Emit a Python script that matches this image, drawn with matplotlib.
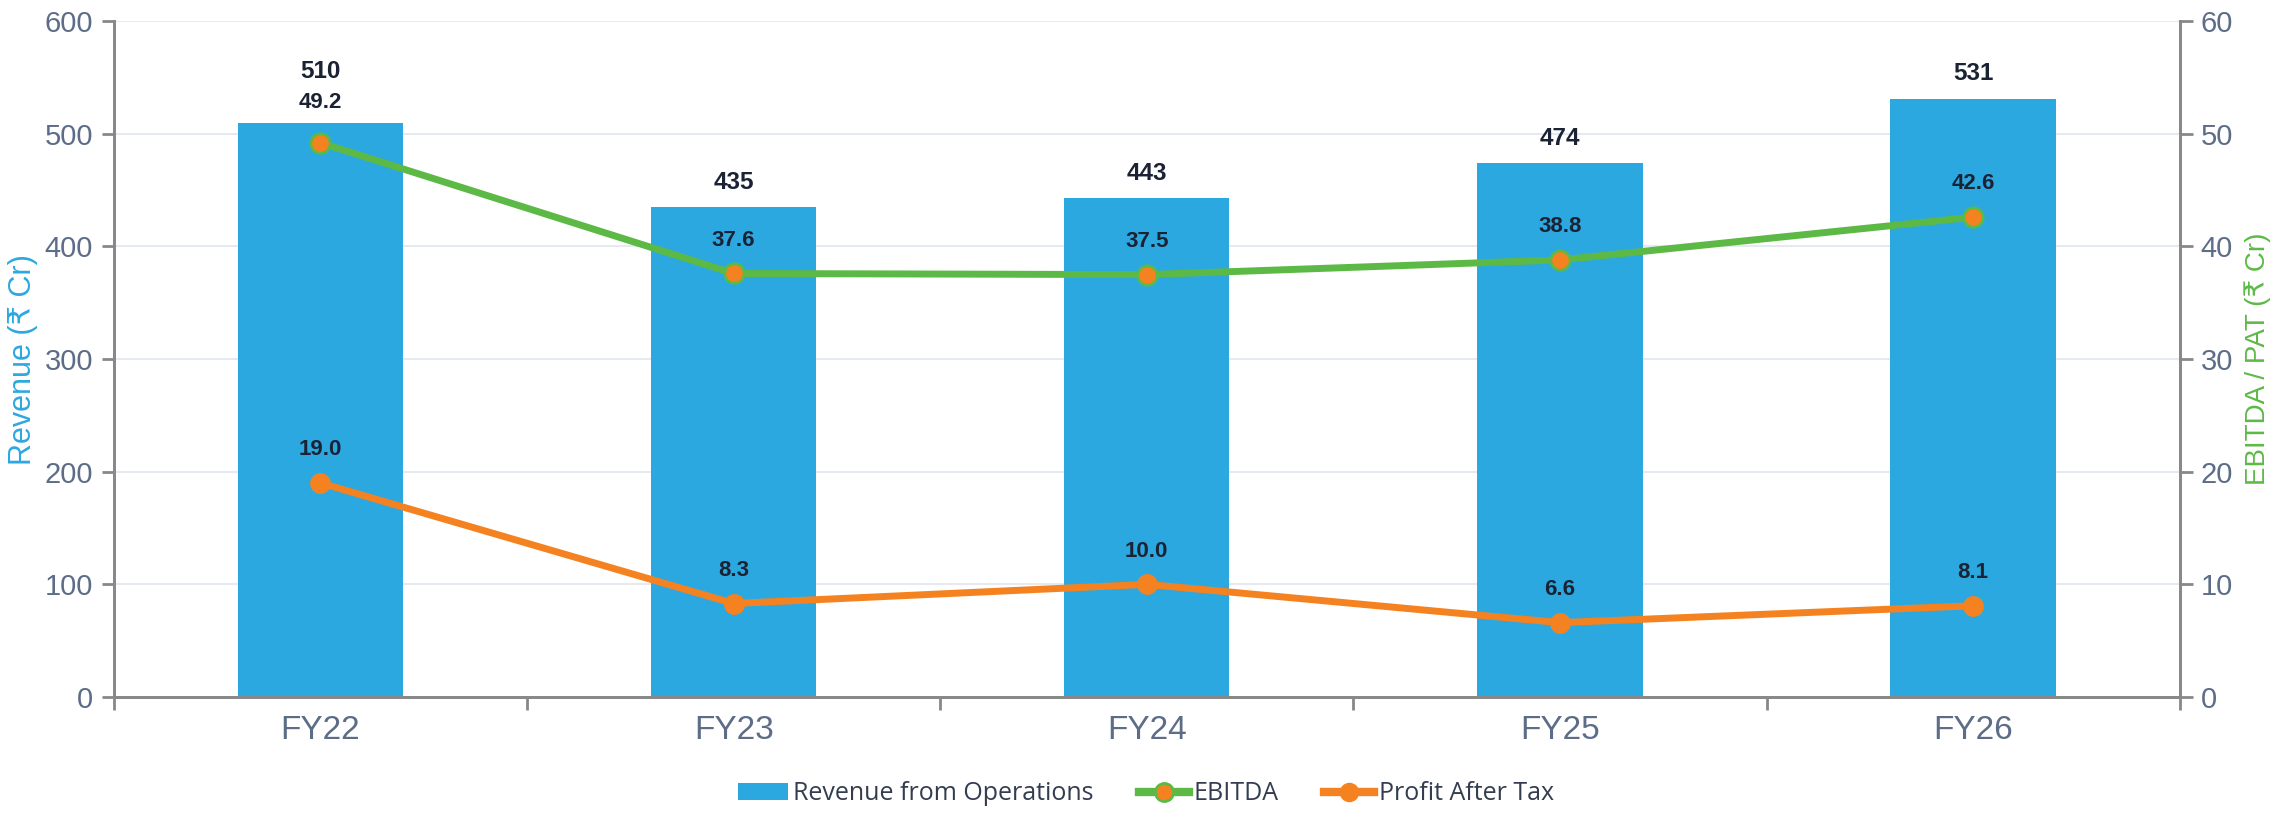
import numpy as np
import matplotlib
matplotlib.use('Agg')
import matplotlib.pyplot as plt
from matplotlib.lines import Line2D
from matplotlib.patches import Patch

plt.rcParams['font.family'] = ['Liberation Sans', 'DejaVu Sans']

# data
years = ['FY22', 'FY23', 'FY24', 'FY25', 'FY26']
revenue = [510, 435, 443, 474, 531]
ebitda = [49.2, 37.6, 37.5, 38.8, 42.6]
pat = [19.0, 8.3, 10.0, 6.6, 8.1]

bar_col = '#2CA8E0'
green = '#5DB946'
orange = '#F58220'
tick_col = '#5D6D88'
lab_col = '#1A2233'
spine_col = '#888888'

fig = plt.figure(figsize=(22.92, 8.15), dpi=100)
ax = fig.add_axes([0.0497, 0.1448, 0.9013, 0.8292])
ax2 = ax.twinx()

x = np.arange(len(years))
ax.bar(x, revenue, width=0.4, color=bar_col, zorder=2)

ax.set_xlim(-0.5, len(years) - 0.5)
ax.set_ylim(0, 600)
ax2.set_ylim(0, 60)
ax.set_yticks(np.arange(0, 601, 100))
ax2.set_yticks(np.arange(0, 61, 10))
ax.set_xticks(np.arange(-0.5, len(years), 1.0))
ax.set_xticklabels([])
ax.set_xticks(x, minor=True)
ax.set_xticklabels(years, minor=True)
ax.tick_params(axis='x', which='minor', length=0, labelsize=24, labelcolor=tick_col, pad=13)
ax.tick_params(axis='x', which='major', length=9, width=2, color=spine_col)
ax.tick_params(axis='y', length=9, width=2, color=spine_col, labelsize=21, labelcolor=tick_col, pad=6)
ax2.tick_params(axis='y', length=9, width=2, color=spine_col, labelsize=21, labelcolor=tick_col, pad=6)

ax.grid(axis='y', color='#E6E9F0', linewidth=1.5, zorder=0)
ax.set_axisbelow(True)
for a in (ax, ax2):
    a.spines['top'].set_visible(False)
    for s in ('left', 'right', 'bottom'):
        a.spines[s].set_color(spine_col)
        a.spines[s].set_linewidth(2)

ax.set_ylabel('Revenue (₹ Cr)', color=bar_col, fontsize=22, labelpad=5)
ax2.set_ylabel('EBITDA / PAT (₹ Cr)', color=green, fontsize=20, labelpad=8)

ax2.plot(x, ebitda, color=green, linewidth=5, marker='o', markersize=14,
         markerfacecolor=orange, markeredgecolor=green, markeredgewidth=2, zorder=3)
ax2.plot(x, pat, color=orange, linewidth=5, marker='o', markersize=14,
         markerfacecolor=orange, markeredgecolor=orange, zorder=3)

# data labels
for i in range(len(years)):
    close = revenue[i] - ebitda[i] * 10 < 40
    bar_off = 37 if close else 18
    eb_off = 29 if close else 24
    ax.annotate(str(revenue[i]), (x[i], revenue[i]), xytext=(0, bar_off),
                textcoords='offset points', ha='center', va='center',
                fontsize=17.5, fontweight='bold', color=lab_col, zorder=5)
    ax2.annotate('%.1f' % ebitda[i], (x[i], ebitda[i]), xytext=(0, eb_off),
                 textcoords='offset points', ha='center', va='center',
                 fontsize=16, fontweight='bold', color=lab_col, zorder=5)
    ax2.annotate('%.1f' % pat[i], (x[i], pat[i]), xytext=(0, 24),
                 textcoords='offset points', ha='center', va='center',
                 fontsize=16, fontweight='bold', color=lab_col, zorder=5)

handles = [
    Patch(facecolor=bar_col, edgecolor='none', label='Revenue from Operations'),
    Line2D([], [], color=green, linewidth=6, marker='o', markersize=13,
           markerfacecolor=orange, markeredgecolor=green, markeredgewidth=2, label='EBITDA'),
    Line2D([], [], color=orange, linewidth=6, marker='o', markersize=13,
           markerfacecolor=orange, markeredgecolor=orange, label='Profit After Tax'),
]
leg = fig.legend(handles=handles, loc='center', bbox_to_anchor=(0.5, 0.026), ncol=3,
                 frameon=False, handlelength=2.0, columnspacing=1.8, handletextpad=0.2,
                 prop={'family': 'Open Sans', 'size': 18})
for t in leg.get_texts():
    t.set_color('#333D4F')

fig.savefig('out.png', dpi=100)
